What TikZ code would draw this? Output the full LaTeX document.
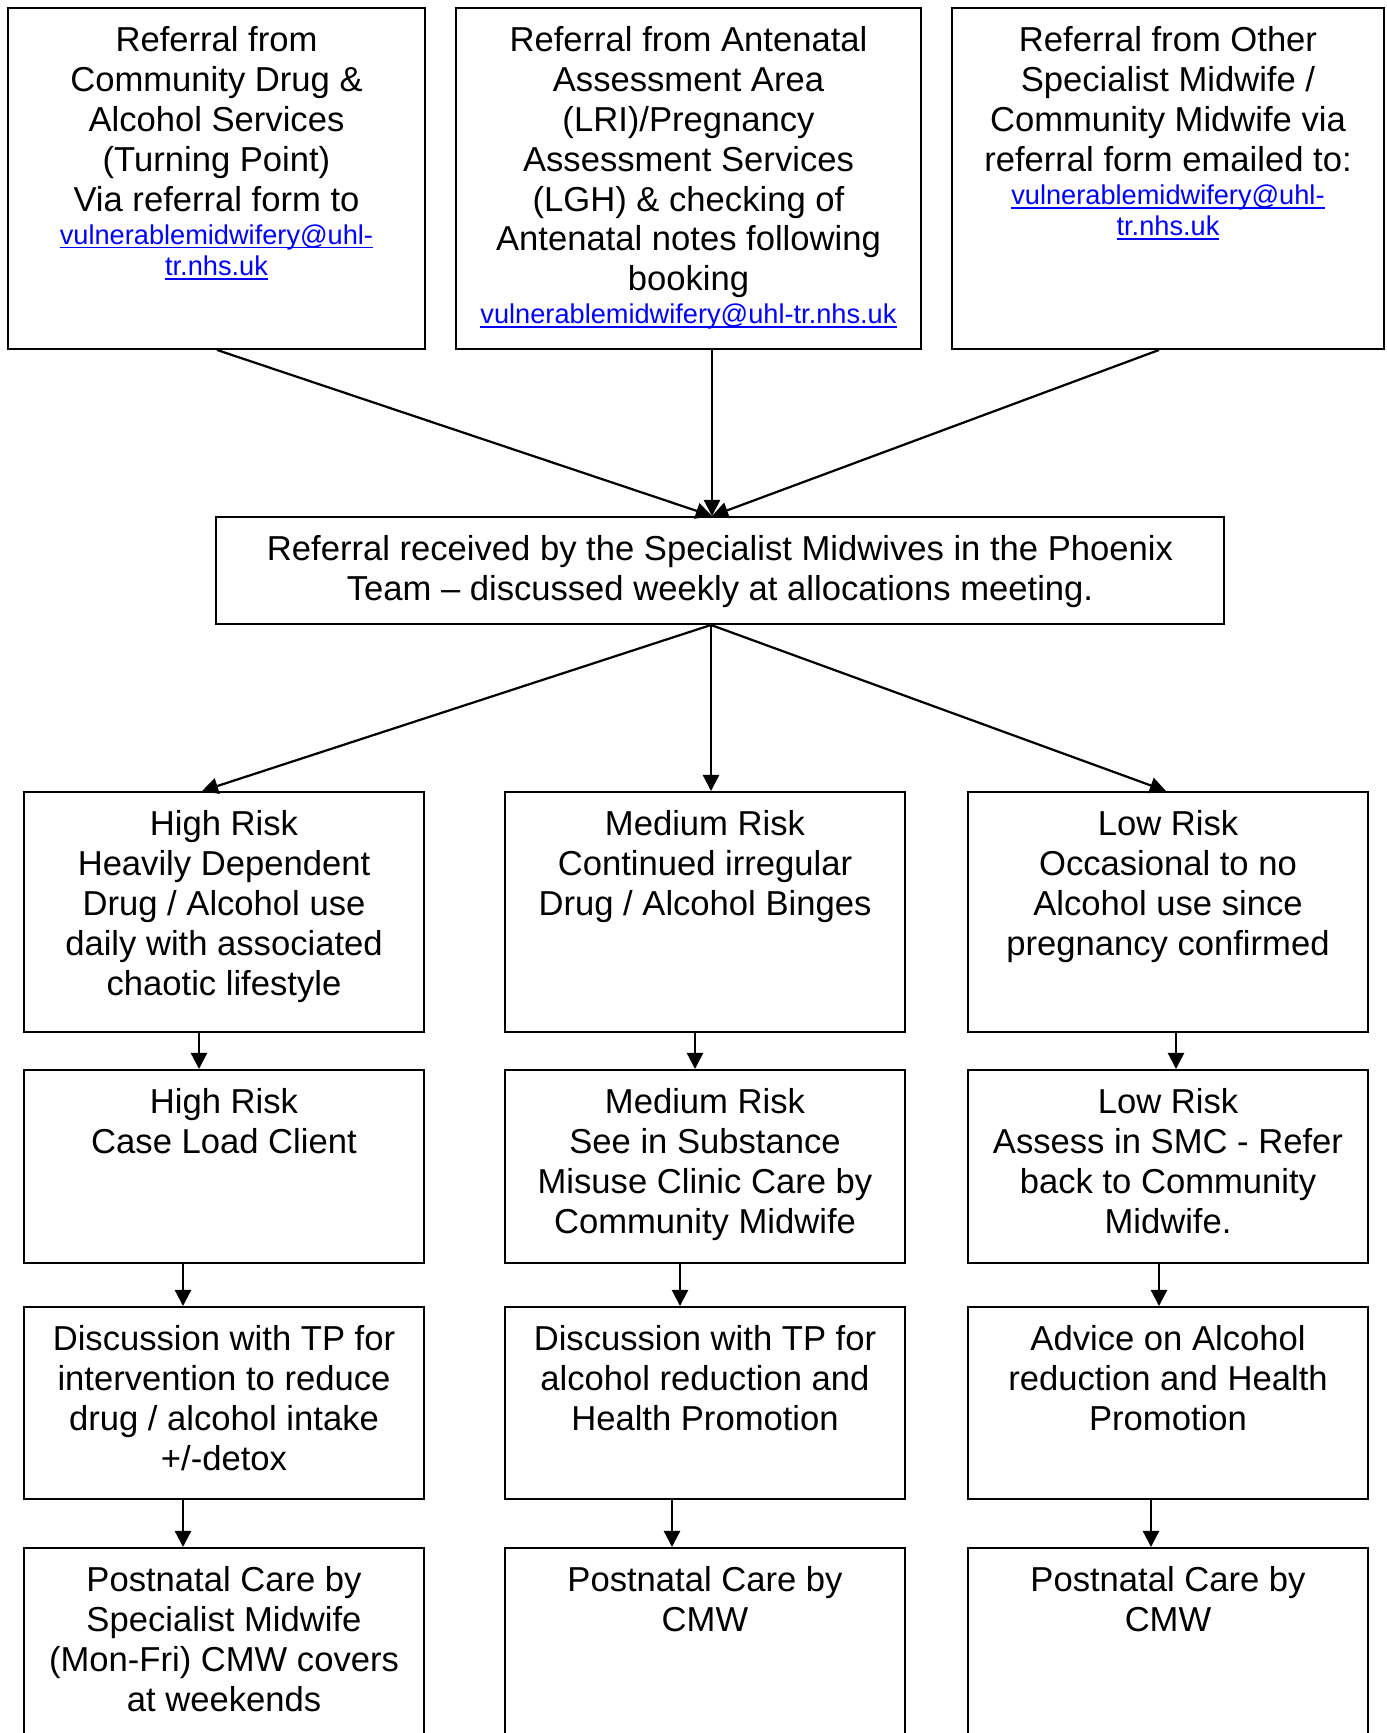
\documentclass[tikz,border=0pt]{standalone}
\usepackage{fontspec}
\setmainfont{Liberation Sans}
\usetikzlibrary{arrows.meta,calc}
\newlength\pxu
\setlength\pxu{0.40449pt}
\definecolor{linkblue}{RGB}{0,0,255}
\newcommand\emline[1]{\leavevmode\setbox0=\hbox{#1}\rlap{\rule[-1.6pt]{\wd0}{0.7pt}}\box0}
\newcommand\boxtext[3]{\parbox[t][#2\pxu][t]{#1\pxu}{\centering\vspace*{6.5pt}\strut #3\par}}
\newcommand\mailtwo[2]{\par\fontsize{11}{12.65}\selectfont\color{linkblue}\vspace*{0.8pt}\emline{#1}\\\emline{#2}}
\newcommand\mailone[1]{\par\fontsize{11}{12.65}\selectfont\color{linkblue}\vspace*{0.8pt}\emline{#1}}
\tikzset{
  box/.style={draw=black, line width=0.8pt, inner sep=0pt, anchor=north west,
              font=\fontsize{14}{16.1}\selectfont},
  flow/.style={draw=black, line width=0.9pt, -{Triangle[width=6.5pt,length=6.5pt]}},
}
\begin{document}
\begin{tikzpicture}[x=\pxu, y=-\pxu]
\useasboundingbox (0,0) rectangle (1386,1733);
% top row
\node[box] (A) at (7,7) {\boxtext{417}{341}{Referral from\\Community Drug \&\\Alcohol Services\\(Turning Point)\\Via referral form to\mailtwo{vulnerablemidwifery@uhl-}{tr.nhs.uk}}};
\node[box] (B) at (455,7) {\boxtext{465}{341}{Referral from Antenatal\\Assessment Area\\(LRI)/Pregnancy\\Assessment Services\\(LGH) \& checking of\\Antenatal notes following\\booking\mailone{vulnerablemidwifery@uhl-tr.nhs.uk}}};
\node[box] (C) at (951,7) {\boxtext{432}{341}{Referral from Other\\Specialist Midwife /\\Community Midwife via\\referral form emailed to:\mailtwo{vulnerablemidwifery@uhl-}{tr.nhs.uk}}};
% middle
\node[box] (M) at (215,516) {\boxtext{1008}{107}{Referral received by the Specialist Midwives in the Phoenix\\Team – discussed weekly at allocations meeting.}};
% row 1
\node[box] (L1) at (23,791) {\boxtext{400}{240}{High Risk\\Heavily Dependent\\Drug / Alcohol use\\daily with associated\\chaotic lifestyle}};
\node[box] (M1) at (504,791) {\boxtext{400}{240}{Medium Risk\\Continued irregular\\Drug / Alcohol Binges}};
\node[box] (R1) at (967,791) {\boxtext{400}{240}{Low Risk\\Occasional to no\\Alcohol use since\\pregnancy confirmed}};
% row 2
\node[box] (L2) at (23,1069) {\boxtext{400}{193}{High Risk\\Case Load Client}};
\node[box] (M2) at (504,1069) {\boxtext{400}{193}{Medium Risk\\See in Substance\\Misuse Clinic Care by\\Community Midwife}};
\node[box] (R2) at (967,1069) {\boxtext{400}{193}{Low Risk\\Assess in SMC - Refer\\back to Community\\Midwife.}};
% row 3
\node[box] (L3) at (23,1306) {\boxtext{400}{192}{Discussion with TP for\\intervention to reduce\\drug / alcohol intake\\+/-detox}};
\node[box] (M3) at (504,1306) {\boxtext{400}{192}{Discussion with TP for\\alcohol reduction and\\Health Promotion}};
\node[box] (R3) at (967,1306) {\boxtext{400}{192}{Advice on Alcohol\\reduction and Health\\Promotion}};
% row 4
\node[box] (L4) at (23,1547) {\boxtext{400}{220}{Postnatal Care by\\Specialist Midwife\\(Mon-Fri) CMW covers\\at weekends}};
\node[box] (M4) at (504,1547) {\boxtext{400}{220}{Postnatal Care by\\CMW}};
\node[box] (R4) at (967,1547) {\boxtext{400}{220}{Postnatal Care by\\CMW}};
% connectors
\draw[flow] ($(A.south west)+(210,0)$) -- ($(M.north west)+(497,0)$);
\draw[flow] ($(B.south west)+(257,0)$) -- ($(M.north west)+(497,0)$);
\draw[flow] ($(C.south west)+(208,0)$) -- ($(M.north west)+(497,0)$);
\draw[flow] ($(M.south west)+(496,0)$) -- ($(L1.north west)+(179,0)$);
\draw[flow] ($(M.south west)+(496,0)$) -- ($(M1.north west)+(207,0)$);
\draw[flow] ($(M.south west)+(496,0)$) -- ($(R1.north west)+(199,0)$);
\draw[flow] ($(L1.south west)+(176,0)$) -- ($(L2.north west)+(176,0)$);
\draw[flow] ($(M1.south west)+(191,0)$) -- ($(M2.north west)+(191,0)$);
\draw[flow] ($(R1.south west)+(209,0)$) -- ($(R2.north west)+(209,0)$);
\draw[flow] ($(L2.south west)+(160,0)$) -- ($(L3.north west)+(160,0)$);
\draw[flow] ($(M2.south west)+(176,0)$) -- ($(M3.north west)+(176,0)$);
\draw[flow] ($(R2.south west)+(192,0)$) -- ($(R3.north west)+(192,0)$);
\draw[flow] ($(L3.south west)+(160,0)$) -- ($(L4.north west)+(160,0)$);
\draw[flow] ($(M3.south west)+(168,0)$) -- ($(M4.north west)+(168,0)$);
\draw[flow] ($(R3.south west)+(184,0)$) -- ($(R4.north west)+(184,0)$);
\end{tikzpicture}
\end{document}
